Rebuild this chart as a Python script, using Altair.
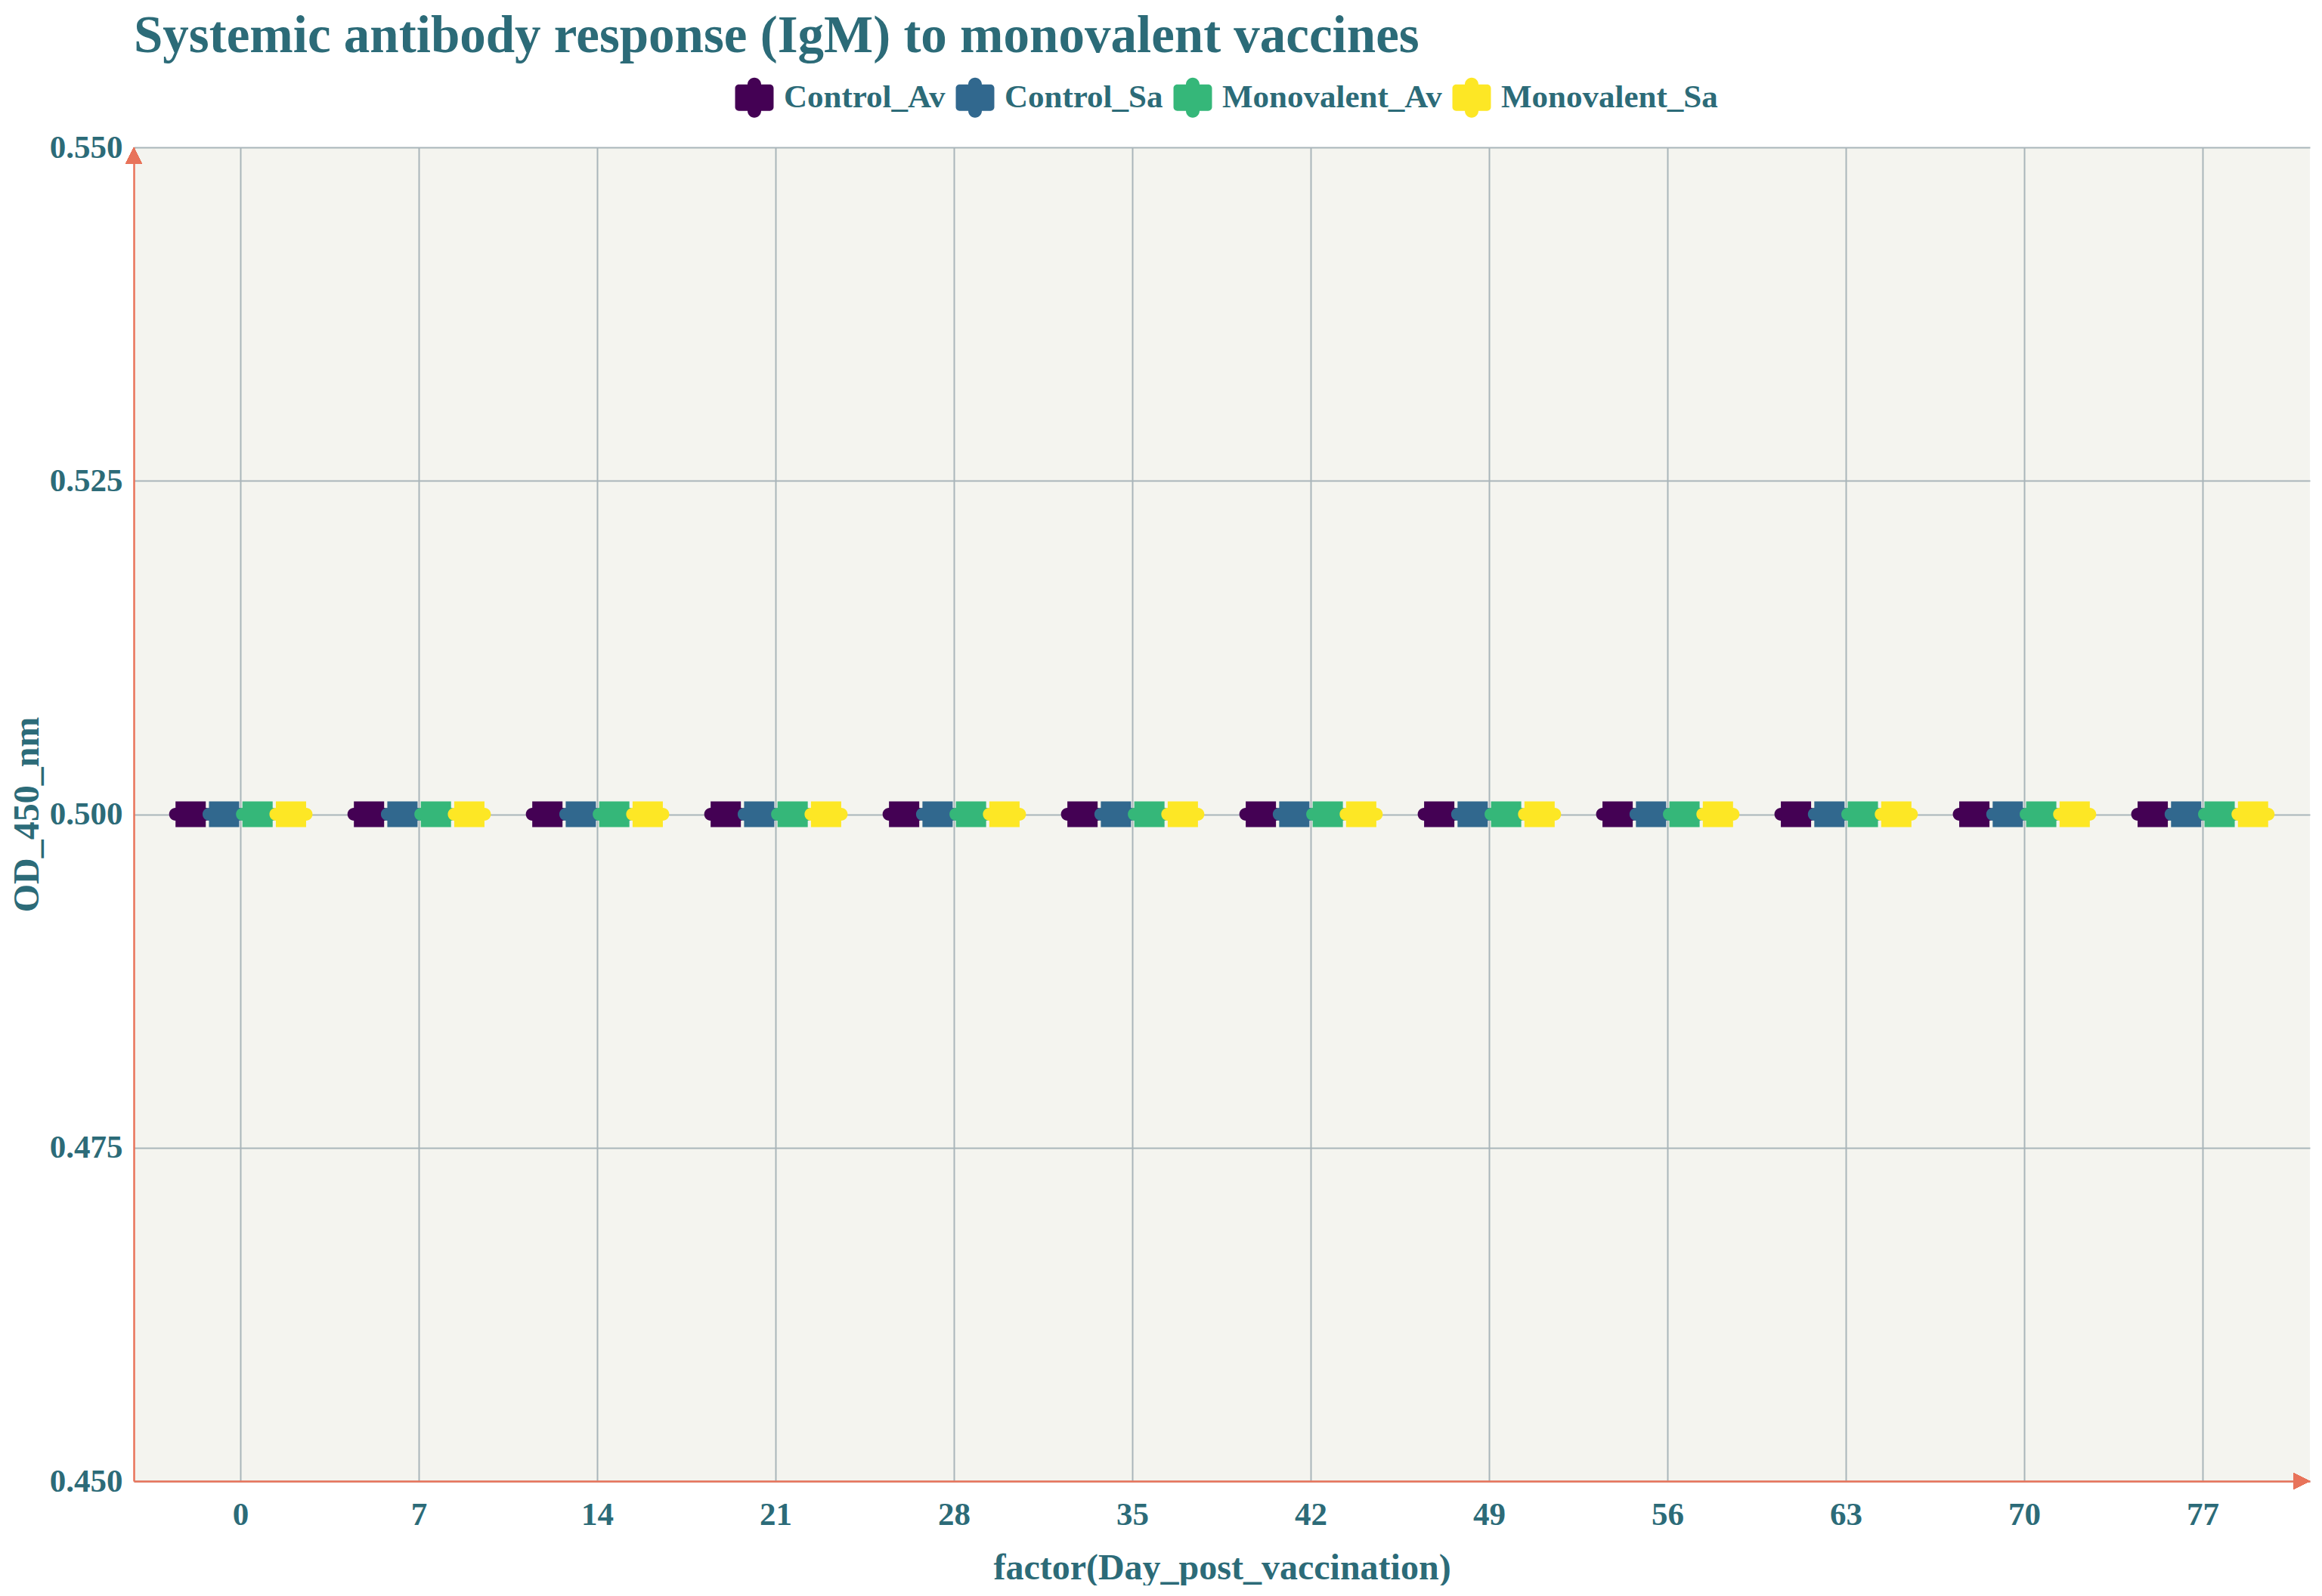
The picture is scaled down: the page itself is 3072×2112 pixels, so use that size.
import altair as alt
import pandas as pd

# ---- data ----
days = [0, 7, 14, 21, 28, 35, 42, 49, 56, 63, 70, 77]
groups = ["Control_Av", "Control_Sa", "Monovalent_Av", "Monovalent_Sa"]
control_av = [0.5, 0.5, 0.5, 0.5, 0.5, 0.5, 0.5, 0.5, 0.5, 0.5, 0.5, 0.5]
control_sa = [0.5, 0.5, 0.5, 0.5, 0.5, 0.5, 0.5, 0.5, 0.5, 0.5, 0.5, 0.5]
monovalent_av = [0.5, 0.5, 0.5, 0.5, 0.5, 0.5, 0.5, 0.5, 0.5, 0.5, 0.5, 0.5]
monovalent_sa = [0.5, 0.5, 0.5, 0.5, 0.5, 0.5, 0.5, 0.5, 0.5, 0.5, 0.5, 0.5]
y_ticks = [0.45, 0.475, 0.5, 0.525, 0.55]
colors = ["#440154", "#31688e", "#35b779", "#fde725"]

series = [control_av, control_sa, monovalent_av, monovalent_sa]
rows = []
for g, vals in zip(groups, series):
    for d, v in zip(days, vals):
        rows.append({"day": d, "group": g, "value": v})
df = pd.DataFrame(rows)

# ---- style ----
FONT = "Liberation Serif"
TEAL = "#2c6b78"
CORAL = "#e8735a"
GRID = "#a9b5ba"
W, H = 2879, 1765

BOX = ("M -0.69,-0.586 L 0.69,-0.586 L 0.69,-0.293 A 0.293 0.293 0 0 1 0.69,0.293 "
       "L 0.69,0.586 L -0.69,0.586 L -0.69,0.293 A 0.293 0.293 0 0 1 -0.69,-0.293 Z")
LEG = ("M -0.98,-0.483 A 0.19 0.19 0 0 1 -0.79,-0.673 L -0.346,-0.673 "
       "A 0.346 0.346 0 0 1 0.346,-0.673 L 0.79,-0.673 A 0.19 0.19 0 0 1 0.98,-0.483 "
       "L 0.98,0.483 A 0.19 0.19 0 0 1 0.79,0.673 L 0.346,0.673 "
       "A 0.346 0.346 0 0 1 -0.346,0.673 L -0.79,0.673 A 0.19 0.19 0 0 1 -0.98,0.483 Z")
UP = "M 0,-1 L 1,1 L -1,1 Z"
RIGHT = "M 1,0 L -1,1 L -1,-1 Z"

yscale = alt.Scale(domain=[0.45, 0.55], nice=False, zero=False)

boxes = alt.Chart(df).mark_point(
    filled=True, shape=BOX, size=3364, opacity=1, strokeWidth=0
).encode(
    x=alt.X("day:O", sort=days,
            scale=alt.Scale(type="band", paddingInner=0.25, paddingOuter=0.225),
            axis=alt.Axis(title="factor(Day_post_vaccination)", labelAngle=0,
                          bandPosition=0.5, labelPadding=23, titlePadding=25)),
    xOffset=alt.XOffset("group:N", sort=groups,
                        scale=alt.Scale(type="band", paddingInner=0, paddingOuter=0)),
    y=alt.Y("value:Q", scale=yscale,
            axis=alt.Axis(values=y_ticks, format=".3f", title="OD_450_nm",
                          labelPadding=15, titlePadding=5)),
    color=alt.Color("group:N", scale=alt.Scale(domain=groups, range=colors),
                    legend=alt.Legend(
                        orient="none", legendX=795, legendY=-92,
                        direction="horizontal", title=None,
                        symbolType=LEG, symbolSize=2704, symbolStrokeWidth=0,
                        symbolOpacity=1, labelLimit=600,
                        labelFont=FONT, labelFontSize=43, labelFontWeight="bold",
                        labelColor=TEAL, labelOffset=13, columnPadding=13)),
)

arrow_y = alt.Chart(df).mark_point(
    filled=True, shape=UP, size=484, color=CORAL, opacity=1, yOffset=11
).encode(x=alt.value(0), y=alt.datum(0.55, scale=yscale))

arrow_x = alt.Chart(df).mark_point(
    filled=True, shape=RIGHT, size=484, color=CORAL, opacity=1, xOffset=-11
).encode(x=alt.value(W), y=alt.datum(0.45, scale=yscale))

chart = alt.layer(boxes, arrow_y, arrow_x).properties(
    width=W, height=H,
    title=alt.TitleParams(
        "Systemic antibody response (IgM) to monovalent vaccines",
        anchor="start", frame="group", font=FONT, fontSize=69,
        fontWeight="bold", color=TEAL, offset=20),
    autosize=alt.AutoSizeParams(type="none"),
    padding={"left": 169, "top": 187, "right": 4, "bottom": 138},
).configure_view(
    fill="#f4f4ef", stroke=None
).configure_axis(
    grid=True, gridColor=GRID, gridWidth=2, gridOpacity=1,
    domainColor=CORAL, domainWidth=2.5, ticks=False,
    labelFont=FONT, labelFontSize=43, labelFontWeight="bold", labelColor=TEAL,
    titleFont=FONT, titleFontSize=48, titleFontWeight="bold", titleColor=TEAL,
)

chart.save("out.html", embed_options={"renderer": "svg", "actions": False})
